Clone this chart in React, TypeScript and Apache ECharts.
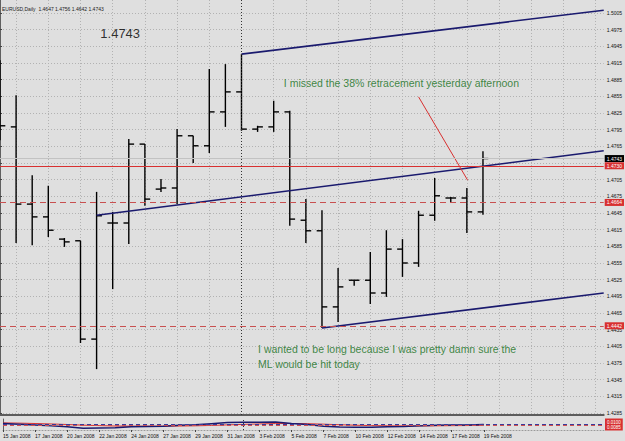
import React, { useEffect, useRef } from 'react';
import * as echarts from 'echarts';

const dates = [
  '15 Jan 2008', '16 Jan 2008', '17 Jan 2008', '18 Jan 2008', '20 Jan 2008', '21 Jan 2008',
  '22 Jan 2008', '23 Jan 2008', '24 Jan 2008', '25 Jan 2008', '27 Jan 2008', '28 Jan 2008',
  '29 Jan 2008', '30 Jan 2008', '31 Jan 2008', '1 Feb 2008', '3 Feb 2008', '4 Feb 2008',
  '5 Feb 2008', '6 Feb 2008', '7 Feb 2008', '8 Feb 2008', '10 Feb 2008', '11 Feb 2008',
  '12 Feb 2008', '13 Feb 2008', '14 Feb 2008', '15 Feb 2008', '17 Feb 2008', '18 Feb 2008',
  '19 Feb 2008',
];
const opens = [1.4890, 1.4800, 1.4661, 1.4638, 1.4598, 1.4595, 1.4418, 1.4627, 1.4627, 1.4769, 1.4688, 1.4690, 1.4784, 1.4766, 1.4827, 1.4863, 1.4796, 1.4800, 1.4827, 1.4632, 1.4613, 1.4476, 1.4524, 1.4524, 1.4501, 1.4580, 1.4555, 1.4641, 1.4672, 1.4672, 1.4647];
const highs = [1.4920, 1.4857, 1.4713, 1.4694, 1.4600, 1.4595, 1.4683, 1.4647, 1.4778, 1.4769, 1.4706, 1.4796, 1.4784, 1.4904, 1.4913, 1.4931, 1.4802, 1.4847, 1.4829, 1.4670, 1.4650, 1.4546, 1.4524, 1.4575, 1.4614, 1.4598, 1.4649, 1.4708, 1.4674, 1.4690, 1.4756];
const lows = [1.4776, 1.4591, 1.4587, 1.4602, 1.4584, 1.4411, 1.4364, 1.4508, 1.4589, 1.4658, 1.4683, 1.4661, 1.4735, 1.4753, 1.4800, 1.4793, 1.4791, 1.4791, 1.4622, 1.4591, 1.4438, 1.4449, 1.4514, 1.4481, 1.4494, 1.4530, 1.4548, 1.4631, 1.4665, 1.4609, 1.4642];
const closes = [1.4802, 1.4661, 1.4638, 1.4614, 1.4593, 1.4418, 1.4640, 1.4627, 1.4769, 1.4670, 1.4690, 1.4784, 1.4766, 1.4827, 1.4863, 1.4796, 1.4800, 1.4827, 1.4634, 1.4613, 1.4476, 1.4512, 1.4524, 1.4501, 1.4580, 1.4555, 1.4641, 1.4676, 1.4672, 1.4647, 1.4743];

// price scale tick labels
const yTicks = [1.4285, 1.4315, 1.4345, 1.4375, 1.4405, 1.4435, 1.4465, 1.4495, 1.4525, 1.4555, 1.4585, 1.4615, 1.4645, 1.4675, 1.4705, 1.4735, 1.4765, 1.4795, 1.4825, 1.4855, 1.4885, 1.4915, 1.4945, 1.4975, 1.5005];
const yLabels = [1.4285, 1.4315, 1.4345, 1.4375, 1.4405, 1.4435, 1.4465, 1.4495, 1.4525, 1.4555, 1.4585, 1.4615, 1.4645, 1.4675, 1.4705, 1.4765, 1.4795, 1.4825, 1.4855, 1.4885, 1.4915, 1.4945, 1.4975, 1.5005];
const dateLabelIdx = [0, 2, 4, 6, 8, 10, 12, 14, 16, 18, 20, 22, 24, 26, 28, 30];
const gridIdx = [1, 3, 5, 7, 9, 11, 13, 15, 17, 19, 21, 23, 25, 27, 29, 31, 33, 35, 37];

// horizontal levels
const bidPrice = 1.4743;
const solidLevel = 1.4730;
const dashedLevels = [1.4664, 1.4442];
const separatorBar = 15;

// pitchfork lines [bar, price]
const upperLine = [[15, 1.4931], [37.5, 1.5010]];
const medianLine = [[6, 1.4641], [37.5, 1.4757]];
const lowerLine = [[20, 1.4438], [37.5, 1.4501]];
const arrowLine = [[26.0, 1.4854], [29.05, 1.4704]];

// annotations
const bigLabel = { x: 6.2, y: 1.4969, text: '1.4743' };
const note1 = { x: 17.6, y: 1.4879, text: 'I missed the 38% retracement yesterday afternoon' };
const note2a = { x: 16.0, y: 1.4400, text: 'I wanted to be long because I was pretty damn sure the' };
const note2b = { x: 16.0, y: 1.4373, text: 'ML would be hit today' };

// indicator sub-window
const indMain = [0.0120, 0.0105, 0.0090, 0.0075, 0.0060, 0.0030, 0.0035, 0.0040, 0.0060, 0.0065, 0.0070, 0.0085, 0.0095, 0.0115, 0.0135, 0.0140, 0.0140, 0.0145, 0.0120, 0.0100, 0.0070, 0.0055, 0.0050, 0.0050, 0.0060, 0.0065, 0.0075, 0.0085, 0.0090, 0.0090, 0.0100];
const indSignal = [0.0130, 0.0125, 0.0118, 0.0110, 0.0100, 0.0088, 0.0080, 0.0072, 0.0070, 0.0069, 0.0069, 0.0072, 0.0076, 0.0083, 0.0093, 0.0102, 0.0110, 0.0117, 0.0118, 0.0115, 0.0106, 0.0096, 0.0087, 0.0080, 0.0076, 0.0074, 0.0074, 0.0076, 0.0079, 0.0081, 0.0085];

const FONT = '"Liberation Sans", Arial, sans-serif';
const NAVY = '#1a1a6e';
const RED = '#d83030';
const GREEN = '#0f6e16';

function tag(text: string, bg: string) {
  return {
    show: true,
    position: 'end',
    formatter: text,
    color: '#ffffff',
    backgroundColor: bg,
    fontSize: 5,
    lineHeight: 5,
    fontFamily: FONT,
    padding: [1, 2, 1, 2],
    distance: 1,
  };
}

function textPoint(p: { x: number; y: number; text: string }, size: number, color: string) {
  return {
    value: [p.x, p.y],
    label: {
      show: true,
      position: 'right',
      distance: 0,
      formatter: p.text,
      fontSize: size,
      color,
      fontFamily: FONT,
    },
  };
}

export default function App() {
  const ref = useRef<HTMLDivElement>(null);
  useEffect(() => {
    const chart = echarts.init(ref.current!, null, { renderer: 'svg' });
    const last = dates.length - 1;
    const header = `EURUSD,Daily  ${opens[last].toFixed(4)} ${highs[last].toFixed(4)} ${lows[last].toFixed(4)} ${closes[last].toFixed(4)}`;
    const ohlc = dates.map((d, i) => [i, opens[i], highs[i], lows[i], closes[i]]);
    const option: any = {
      animation: false,
      backgroundColor: '#dfdfdf',
      title: {
        text: header,
        left: 2,
        top: 6,
        padding: 0,
        textStyle: { fontSize: 5, fontWeight: 'normal', color: '#222', fontFamily: FONT },
      },
      grid: [
        { left: 0, top: 0, width: 604, height: 415 },
        { left: 0, top: 419, width: 604, height: 11 },
      ],
      xAxis: [
        {
          type: 'value', gridIndex: 0, min: 0, max: 37.5,
          axisLine: { show: true, onZero: false, lineStyle: { color: '#5c5c5c', width: 2 } },
          axisTick: { show: false, customValues: gridIdx },
          axisLabel: { show: false },
          splitLine: { show: true, lineStyle: { color: '#b2b2b2', type: [1, 2], width: 1 } },
        },
        {
          type: 'value', gridIndex: 1, min: 0, max: 37.5,
          axisLine: { show: true, onZero: false, lineStyle: { color: '#9a9a9a', type: [1, 2] } },
          axisTick: { show: true, length: 2, customValues: dateLabelIdx, lineStyle: { color: '#444' } },
          axisLabel: {
            show: true, customValues: dateLabelIdx, formatter: (v: number) => dates[Math.round(v)] || '',
            fontSize: 5, color: '#111', align: 'left', margin: 3, fontFamily: FONT,
          },
          splitLine: { show: false },
        },
      ],
      yAxis: [
        {
          type: 'value', gridIndex: 0, position: 'right', min: 1.42814, max: 1.50284,
          axisLine: { show: true, lineStyle: { color: '#606060', width: 1 } },
          axisTick: { show: true, length: 2, customValues: yTicks, lineStyle: { color: '#444' } },
          axisLabel: {
            show: true, customValues: yLabels, formatter: (v: number) => v.toFixed(4),
            fontSize: 5, lineHeight: 5, color: '#111', margin: 3, fontFamily: FONT,
          },
          splitLine: { show: true, lineStyle: { color: '#b2b2b2', type: [1, 2], width: 1 } },
        },
        {
          type: 'value', gridIndex: 1, position: 'right', min: 0, max: 0.02,
          axisLine: { show: true, lineStyle: { color: '#606060' } },
          axisTick: { show: false }, axisLabel: { show: false }, splitLine: { show: false },
        },
      ],
      series: [
        {
          type: 'custom',
          xAxisIndex: 0, yAxisIndex: 0,
          clip: true,
          data: ohlc,
          encode: { x: 0, y: [1, 2, 3, 4] },
          renderItem: (params: any, api: any) => {
            const x = api.value(0);
            const ph = api.coord([x, api.value(2)]);
            const pl = api.coord([x, api.value(3)]);
            const po = api.coord([x, api.value(1)]);
            const pc = api.coord([x, api.value(4)]);
            const w = api.size([1, 0])[0] * 0.33;
            const st = { stroke: '#000', lineWidth: 1.4 };
            return {
              type: 'group',
              children: [
                { type: 'line', shape: { x1: ph[0], y1: ph[1], x2: pl[0], y2: pl[1] }, style: st },
                { type: 'line', shape: { x1: po[0] - w, y1: po[1], x2: po[0], y2: po[1] }, style: st },
                { type: 'line', shape: { x1: pc[0], y1: pc[1], x2: pc[0] + w, y2: pc[1] }, style: st },
              ],
            };
          },
        },
        {
          type: 'line', xAxisIndex: 0, yAxisIndex: 0, data: medianLine, symbol: 'none',
          lineStyle: { color: NAVY, width: 1.6 }, z: 3,
          markLine: {
            silent: true, symbol: ['none', 'none'], animation: false, precision: 4,
            data: [
              { yAxis: bidPrice, lineStyle: { color: '#c2c2c2', type: 'solid', width: 1 }, label: tag(bidPrice.toFixed(4), '#000000') },
              { yAxis: solidLevel, lineStyle: { color: RED, type: 'solid', width: 1 }, label: tag(solidLevel.toFixed(4), RED) },
              ...dashedLevels.map((v) => ({ yAxis: v, lineStyle: { color: '#c85050', type: [6, 4], width: 1 }, label: tag(v.toFixed(4), RED) })),
              { xAxis: separatorBar, lineStyle: { color: '#333', type: [1, 2], width: 1 }, label: { show: false } },
            ],
          },
        },
        { type: 'line', xAxisIndex: 0, yAxisIndex: 0, data: upperLine, symbol: 'none', lineStyle: { color: NAVY, width: 1.6 }, z: 3 },
        { type: 'line', xAxisIndex: 0, yAxisIndex: 0, data: lowerLine, symbol: 'none', lineStyle: { color: NAVY, width: 1.6 }, z: 3 },
        { type: 'line', xAxisIndex: 0, yAxisIndex: 0, data: arrowLine, symbol: 'none', lineStyle: { color: RED, width: 1 }, z: 3 },
        {
          type: 'scatter', xAxisIndex: 0, yAxisIndex: 0, symbolSize: 1,
          itemStyle: { color: 'rgba(0,0,0,0)' }, z: 5,
          data: [
            textPoint(bigLabel, 13, '#000'),
            textPoint(note1, 10.5, GREEN),
            textPoint(note2a, 10.5, GREEN),
            textPoint(note2b, 10.5, GREEN),
          ],
        },
        {
          type: 'line', xAxisIndex: 1, yAxisIndex: 1, data: indSignal.map((v, i) => [i, v]), symbol: 'none',
          lineStyle: { color: RED, width: 1 },
          markLine: {
            silent: true, symbol: ['none', 'none'], animation: false, precision: 4,
            data: [
              { yAxis: indSignal[last], lineStyle: { color: '#d05050', type: [4, 3], width: 1 }, label: { show: false } },
              { xAxis: separatorBar, lineStyle: { color: '#333', type: [1, 2], width: 1 }, label: { show: false } },
            ],
          },
        },
        {
          type: 'line', xAxisIndex: 1, yAxisIndex: 1, data: indMain.map((v, i) => [i, v]), symbol: 'none',
          lineStyle: { color: NAVY, width: 1.5 },
          markLine: {
            silent: true, symbol: ['none', 'none'], animation: false, precision: 4,
            data: [
              {
                yAxis: indMain[last], lineStyle: { color: '#3a3a9a', type: [4, 3], width: 1 },
                label: { ...tag(`${indMain[last].toFixed(4)}\n${indSignal[last].toFixed(4)}`, RED), lineHeight: 5, fontSize: 4.5 },
              },
            ],
          },
        },
      ],
    };
    chart.setOption(option);
    return () => chart.dispose();
  }, []);
  return <div ref={ref} style={{ position: 'fixed', left: 0, top: 0, width: 625, height: 441 }} />;
}
